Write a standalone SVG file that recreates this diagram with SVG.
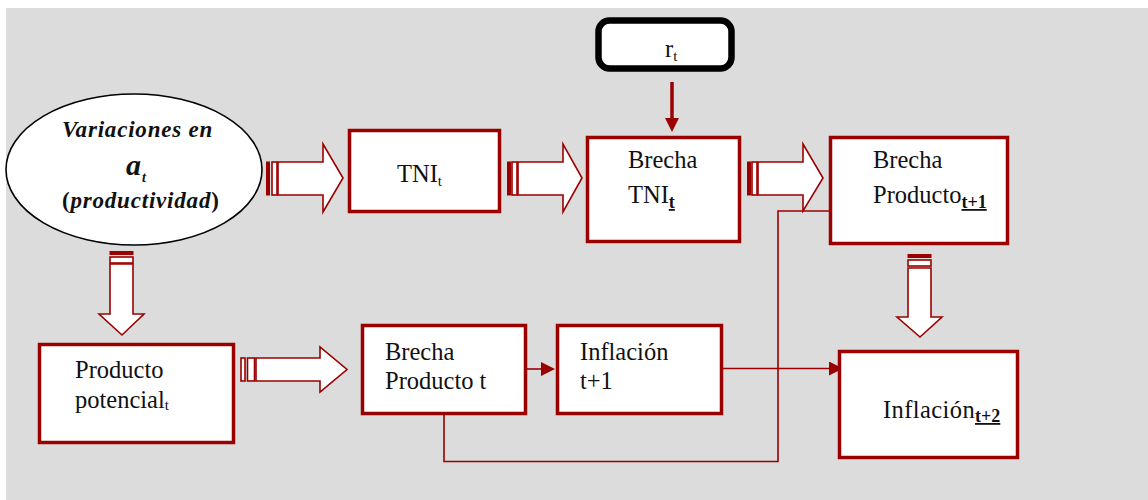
<svg xmlns="http://www.w3.org/2000/svg" width="1148" height="500" viewBox="0 0 1148 500">
<defs>
<style>
.box{fill:#fff;stroke:#9b0000;stroke-width:3.5}
.blk{fill:#fff;stroke:#9b0000;stroke-width:1.6;stroke-linejoin:miter}
.sol{fill:#9b0000;stroke:#9b0000;stroke-width:1}
.ln{fill:none;stroke:#9b0000;stroke-width:1.6}
.t{font-family:"Liberation Serif","Times New Roman","DejaVu Serif",serif;font-size:24.5px;fill:#111}
.s{font-size:15px}
.sb{font-size:18px;font-weight:bold;text-decoration:underline}
.bi{font-family:"Liberation Serif","Times New Roman","DejaVu Serif",serif;font-weight:bold;font-style:italic;fill:#111}
</style>
<marker id="ah" viewBox="0 0 10 10" refX="0" refY="5" markerWidth="14" markerHeight="14" markerUnits="userSpaceOnUse" orient="auto">
<path d="M0,0 L10,5 L0,10 Z" fill="#9b0000"/>
</marker>
</defs>
<rect x="6" y="8" width="1142" height="492" fill="#dcdcdc"/>

<g id="connectors">
<g id="arrow-ellipse-tni">
<rect class="sol" x="266.5" y="162" width="3" height="33"/>
<rect class="blk" x="272" y="162" width="5" height="33"/>
<polygon class="blk" points="278,162 323,162 323,144 343,178 323,212 323,195 278,195"/>
</g>
<g id="arrow-tni-brecha">
<rect class="sol" x="507.5" y="162" width="3" height="33"/>
<rect class="blk" x="512" y="162" width="5" height="33"/>
<polygon class="blk" points="518,162 563,162 563,144 582,178 563,212 563,195 518,195"/>
</g>
<g id="arrow-brecha-brechaprod">
<rect class="sol" x="747.5" y="162" width="3" height="33"/>
<rect class="blk" x="752" y="162" width="5" height="33"/>
<polygon class="blk" points="758,162 803,162 803,144 823,178 803,211 803,195 758,195"/>
</g>
<g id="arrow-potencial-brechat">
<rect class="blk" x="241" y="358" width="4" height="23"/>
<rect class="blk" x="247.5" y="358" width="7" height="23"/>
<polygon class="blk" points="256,358 320,358 320,347 347,369.5 320,392 320,381 256,381"/>
</g>
<g id="arrow-ellipse-potencial">
<rect class="sol" x="110" y="251.5" width="23" height="3"/>
<rect class="blk" x="110" y="257" width="23" height="6"/>
<polygon class="blk" points="110,264 133,264 133,314 144,314 122,335 99,314 110,314"/>
</g>
<g id="arrow-brechaprod-inflacion2">
<rect class="sol" x="908" y="254.5" width="23" height="3"/>
<rect class="blk" x="908" y="260" width="23" height="6"/>
<polygon class="blk" points="908,268 931,268 931,317 942,317 920,337 897,317 908,317"/>
</g>
<line x1="672" y1="82" x2="672" y2="118" stroke="#9b0000" stroke-width="3.5" marker-end="url(#ah)"/>
<line class="ln" x1="527" y1="369" x2="541" y2="369" marker-end="url(#ah)"/>
<polyline class="ln" points="444,415 444,461.5 778,461.5 778,211 830,211" marker-end="url(#ah)"/>
<line class="ln" x1="723" y1="368.5" x2="829" y2="368.5" marker-end="url(#ah)"/>
</g>

<g id="node-variaciones">
<ellipse cx="134" cy="169.5" rx="128" ry="75.5" fill="#fff" stroke="#000" stroke-width="1.6"/>
<text class="bi" x="62" y="137" font-size="23" letter-spacing="0.8">Variaciones en</text>
<text class="bi" x="126" y="175" font-size="30">a</text>
<text class="bi" x="142" y="182" font-size="14">t</text>
<text class="bi" x="62" y="208" font-size="23" letter-spacing="0.8"><tspan font-style="normal">(</tspan>productividad<tspan font-style="normal">)</tspan></text>
</g>

<g id="node-rt">
<rect x="598.5" y="20.5" width="133" height="48" rx="11" fill="#fff" stroke="#000" stroke-width="6.5"/>
<text class="t" x="665" y="57">r<tspan class="s" dy="4">t</tspan></text>
</g>

<g id="node-tni">
<rect class="box" x="349.5" y="130.5" width="150" height="81"/>
<text class="t" x="397" y="182">TNI<tspan class="s" dy="4">t</tspan></text>
</g>

<g id="node-brecha-tni">
<rect class="box" x="587.5" y="137.5" width="152" height="104"/>
<text class="t" x="628" y="168">Brecha</text>
<text class="t" x="628" y="203">TNI<tspan class="sb" dy="5">t</tspan></text>
</g>

<g id="node-brecha-producto-t1">
<rect class="box" x="830.5" y="137.5" width="177" height="106"/>
<text class="t" x="873" y="168">Brecha</text>
<text class="t" x="873" y="203">Producto<tspan class="sb" dy="5">t+1</tspan></text>
</g>

<g id="node-producto-potencial">
<rect class="box" x="39.5" y="344.5" width="194" height="98"/>
<text class="t" x="75" y="378">Producto</text>
<text class="t" x="75" y="408">potencial<tspan class="s" dy="2">t</tspan></text>
</g>

<g id="node-brecha-producto-t">
<rect class="box" x="362.5" y="325.5" width="163" height="88"/>
<text class="t" x="385" y="360">Brecha</text>
<text class="t" x="385" y="389">Producto t</text>
</g>

<g id="node-inflacion-t1">
<rect class="box" x="557.5" y="325.5" width="164" height="88"/>
<text class="t" x="580" y="360">Inflación</text>
<text class="t" x="580" y="389">t+1</text>
</g>

<g id="node-inflacion-t2">
<rect class="box" x="839.5" y="351.5" width="178" height="106"/>
<text class="t" x="883" y="418" letter-spacing="0.4">Inflación<tspan class="sb" dy="4" letter-spacing="0">t+2</tspan></text>
</g>
</svg>
